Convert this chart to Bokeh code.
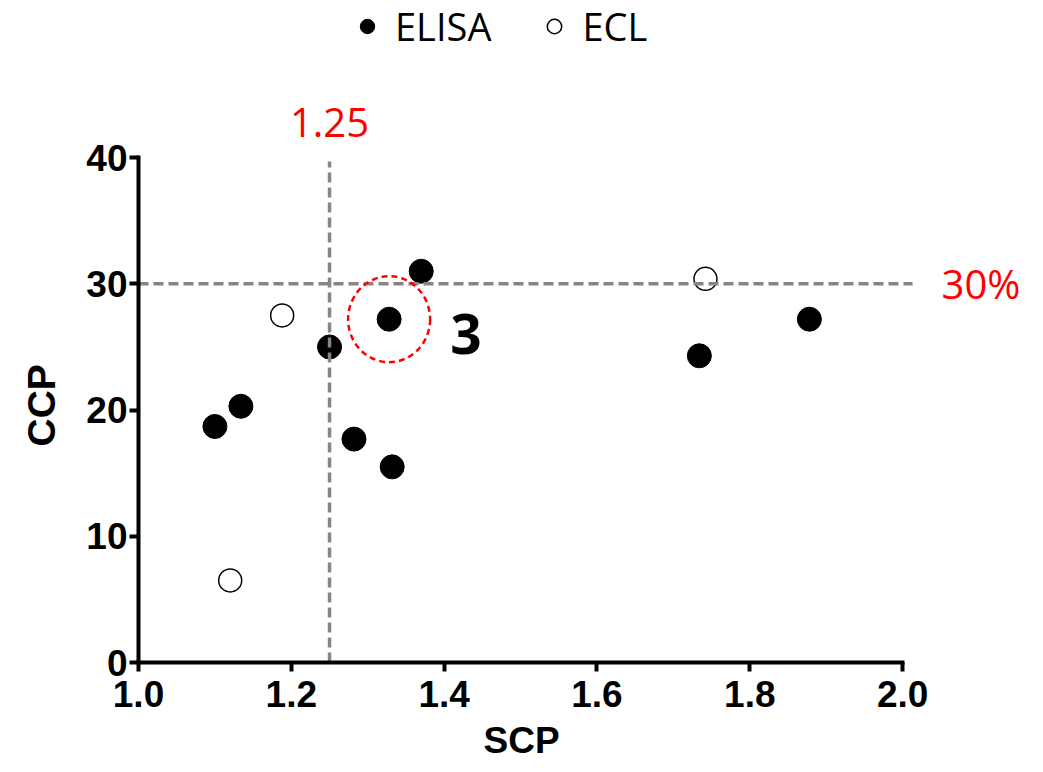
from bokeh.plotting import figure
from bokeh.models import Range1d, FixedTicker, Legend, LegendItem, NumeralTickFormatter, Title
from bokeh.core.properties import value
from bokeh.embed import file_html
from bokeh.resources import INLINE

# ---- data ----
elisa_scp = [1.100, 1.134, 1.250, 1.282, 1.328, 1.332, 1.370, 1.734, 1.878]
elisa_ccp = [18.7, 20.3, 25.0, 17.7, 27.2, 15.5, 31.0, 24.3, 27.2]
ecl_scp = [1.120, 1.188, 1.742]
ecl_ccp = [6.5, 27.5, 30.4]
x_ticks = [1.0, 1.2, 1.4, 1.6, 1.8, 2.0]
y_ticks = [0, 10, 20, 30, 40]
scp_cut = 1.25
ccp_cut = 30
highlight_scp = [1.328]
highlight_ccp = [27.2]
highlight_label = ["3"]
x_title = "SCP"
y_title = "CCP"

p = figure(width=1043, height=772, output_backend="svg", toolbar_location=None,
           x_range=Range1d(1.0, 2.170), y_range=Range1d(0, 52.45),
           min_border_left=138, min_border_right=11, min_border_top=0,
           min_border_bottom=109)
p.outline_line_color = None
p.grid.visible = False

for ax in (p.xaxis[0], p.yaxis[0]):
    ax.axis_line_width = 4
    ax.axis_line_color = "black"
    ax.axis_line_cap = "square"
    ax.major_tick_line_width = 4
    ax.major_tick_out = 9
    ax.major_tick_in = 0
    ax.minor_tick_line_color = None
    ax.major_label_text_font = "Liberation Sans"
    ax.major_label_text_font_style = "bold"
    ax.major_label_text_font_size = "37px"
    ax.major_label_text_color = "black"

p.xaxis.ticker = FixedTicker(ticks=x_ticks)
p.xaxis.bounds = (x_ticks[0], x_ticks[-1])
p.xaxis.formatter = NumeralTickFormatter(format="0.0")
p.xaxis.major_label_standoff = 9

p.yaxis.ticker = FixedTicker(ticks=y_ticks)
p.yaxis.bounds = (y_ticks[0], y_ticks[-1])
p.yaxis.major_label_standoff = 2

r1 = p.scatter(elisa_scp, elisa_ccp, size=24, fill_color="black", line_color="black")
r2 = p.scatter(ecl_scp, ecl_ccp, size=23, fill_color="white", line_color="black", line_width=1.5)

p.segment(x0=[scp_cut, x_ticks[0]], y0=[y_ticks[0], ccp_cut],
          x1=[scp_cut, x_ticks[-1] + 0.013], y1=[y_ticks[-1] - 0.3, ccp_cut],
          line_color="#858585", line_width=3.5, line_dash="10 5")

p.ellipse(x=highlight_scp, y=highlight_ccp, width=82, height=86,
          width_units="screen", height_units="screen",
          fill_color=None, line_color="red", line_width=2.5, line_dash="6 4")

p.text(x=[scp_cut], y=[y_ticks[-1]], text=[f"{scp_cut}"], text_font=value("Open Sans"),
       text_font_size="40px", text_color="red", text_align="center",
       text_baseline="middle", y_offset=-35)
p.text(x=[x_ticks[-1]], y=[ccp_cut], text=[f"{ccp_cut}%"], text_font=value("Open Sans"),
       text_font_size="40px", text_color="red", text_align="left",
       text_baseline="middle", x_offset=39, y_offset=0)
p.text(x=highlight_scp, y=highlight_ccp, text=highlight_label, text_font=value("Open Sans"),
       text_font_style="bold", text_font_size="55px", text_color="black",
       text_align="left", text_baseline="middle", x_offset=61, y_offset=15)

# axis titles placed along the axis bounds (frame is wider than the axes)
p.add_layout(Title(text=x_title, align="left", offset=345, vertical_align="top",
                   standoff=20, text_font="Liberation Sans", text_font_style="bold",
                   text_font_size="37px", text_color="black"), "below")
p.add_layout(Title(text=y_title, align="left", offset=216, vertical_align="top",
                   standoff=38, text_font="Liberation Sans", text_font_style="bold",
                   text_font_size="39px", text_color="black"), "left")

legend = Legend(items=[LegendItem(label="ELISA", renderers=[r1]),
                       LegendItem(label="ECL", renderers=[r2])],
                orientation="horizontal", location=(211, 610),
                glyph_width=36, glyph_height=36, label_standoff=10, spacing=45,
                padding=0, margin=0, border_line_color=None, background_fill_alpha=0,
                label_text_font="Open Sans", label_text_font_size="38px",
                label_text_color="black")
p.add_layout(legend)

open("out.html", "w").write(file_html(p, INLINE))
